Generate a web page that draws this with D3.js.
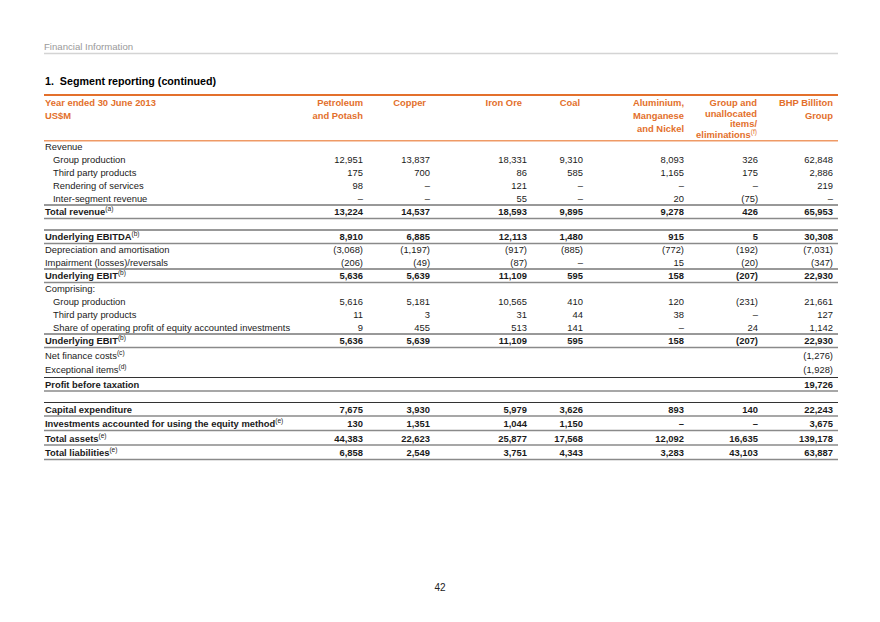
<!DOCTYPE html>
<html><head><meta charset="utf-8">
<script src="https://cdnjs.cloudflare.com/ajax/libs/d3/7.8.5/d3.min.js"></script>
<style>
html,body{margin:0;padding:0;background:#fff;}
svg{display:block;font-family:"Liberation Sans",Arial,sans-serif;}
</style></head>
<body><svg id="c" width="880" height="622"></svg>
<script>
// ---------- DATA ----------
const pageHeader = "Financial Information";
const title = "1.  Segment reporting (continued)";
const stubHeader = ["Year ended 30 June 2013", "US$M"];
const categories = ["Petroleum and Potash","Copper","Iron Ore","Coal","Aluminium, Manganese and Nickel","Group and unallocated items/ eliminations","BHP Billiton Group"];
const categoryLines = [["Petroleum","and Potash"],["Copper"],["Iron Ore"],["Coal"],["Aluminium,","Manganese","and Nickel"],["Group and","unallocated","items/","eliminations"],["BHP Billiton","Group"]];
const categoryNotes = ["","","","","","(f)",""];

const rowLabels = ["Revenue","Group production","Third party products","Rendering of services","Inter-segment revenue","Total revenue",
  "Underlying EBITDA","Depreciation and amortisation","Impairment (losses)/reversals","Underlying EBIT",
  "Comprising:","Group production","Third party products","Share of operating profit of equity accounted investments","Underlying EBIT",
  "Net finance costs","Exceptional items","Profit before taxation",
  "Capital expenditure","Investments accounted for using the equity method","Total assets","Total liabilities"];
const rowNotes = ["","","","","","(a)","(b)","","","(b)","","","","","(b)","(c)","(d)","","","(e)","(e)","(e)"];
const rowTypes = ["head","item","item","item","item","total","total","plain","plain","total","head","item","item","item","total","plain","plain","total","total","total","total","total"];

// "" = blank cell, null = dash
const petroleumPotash = ["",12951,175,98,null,13224,8910,-3068,-206,5636,"",5616,11,9,5636,"","","",7675,130,44383,6858];
const copper          = ["",13837,700,null,null,14537,6885,-1197,-49,5639,"",5181,3,455,5639,"","","",3930,1351,22623,2549];
const ironOre         = ["",18331,86,121,55,18593,12113,-917,-87,11109,"",10565,31,513,11109,"","","",5979,1044,25877,3751];
const coal            = ["",9310,585,null,null,9895,1480,-885,null,595,"",410,44,141,595,"","","",3626,1150,17568,4343];
const aluManNickel    = ["",8093,1165,null,20,9278,915,-772,15,158,"",120,38,null,158,"","","",893,null,12092,3283];
const groupUnalloc    = ["",326,175,null,-75,426,5,-192,-20,-207,"",-231,null,24,-207,"","","",140,null,16635,43103];
const bhpGroup        = ["",62848,2886,219,null,65953,30308,-7031,-347,22930,"",21661,127,1142,22930,-1276,-1928,19726,22243,3675,139178,63887];
const series = [petroleumPotash,copper,ironOre,coal,aluManNickel,groupUnalloc,bhpGroup];
const pageNumber = "42";

// ---------- LAYOUT ----------
const svg = d3.select("#c");
const orange = "#e3702c", textCol = "#1a1a1a";
const left = 44, right = 838;
const fs = 9.4;
const supFs = 6.6;

svg.append("text").attr("x", 44).attr("y", 50).attr("font-size", 9.6).attr("fill", "#9a9a9a").text(pageHeader);
svg.append("line").attr("x1", 44).attr("x2", 838).attr("y1", 53.5).attr("y2", 53.5).attr("stroke", "#d4d4d4").attr("stroke-width", 1.5);
svg.append("text").attr("x", 45).attr("y", 85).attr("font-size", 10.7).attr("font-weight", "bold").attr("fill", "#000").attr("xml:space","preserve").text(title);

// column scale (right edges)
const x = d3.scaleOrdinal().domain(categories).range([363, 430, 527, 583, 684, 758, 833]);
const xHead = d3.scaleOrdinal().domain(categories).range([363, 426, 522, 580, 684, 757, 833]);

// header
svg.append("line").attr("x1", left).attr("x2", right).attr("y1", 95).attr("y2", 95).attr("stroke", orange).attr("stroke-width", 2);
const hy = d3.scaleLinear().domain([0, 1]).range([106, 119]);
const hyTight = d3.scaleLinear().domain([0, 1]).range([106, 116.6]);
stubHeader.forEach((t, i) => svg.append("text").attr("x", left + 1).attr("y", hy(i)).attr("font-size", fs).attr("font-weight", "bold").attr("fill", orange).text(t));
categories.forEach((c, ci) => {
  const n = categoryLines[ci].length;
  const yy = n > 3 ? hyTight : hy;
  categoryLines[ci].forEach((t, li) => {
    const tx = svg.append("text").attr("x", xHead(c)).attr("y", yy(li)).attr("text-anchor", "end")
      .attr("font-size", fs).attr("font-weight", "bold").attr("fill", orange).text(t);
    if (li === n - 1 && categoryNotes[ci]) {
      tx.append("tspan").attr("font-size", supFs).attr("font-weight", "normal").attr("dy", -4).text(categoryNotes[ci]);
    }
  });
});
svg.append("line").attr("x1", left).attr("x2", right).attr("y1", 140.8).attr("y2", 140.8).attr("stroke", "#ef9a66").attr("stroke-width", 1.5);

// row y positions (baselines)
const rowGap = rowLabels.map((d, i) => {
  if (i === 0) return 0;
  if (i === 6 || i === 18) return 25;
  if (i >= 15) return 14.5;
  return 13;
});
const rowY = d3.cumsum(rowGap).map(v => v + 150);
const y = d3.scaleOrdinal().domain(d3.range(rowLabels.length)).range(rowY);

const fmt = d3.format(",");
function cell(v) {
  if (v === "") return "";
  if (v === null) return "\u2013";
  return v < 0 ? "(" + fmt(-v) + ")" : fmt(v);
}

const rows = svg.append("g").selectAll("g").data(rowLabels).join("g");
rows.each(function(lab, i) {
  const g = d3.select(this);
  const bold = rowTypes[i] === "total";
  const tx = g.append("text").attr("x", rowTypes[i] === "item" ? left + 9 : left + 1).attr("y", y(i))
    .attr("font-size", fs).attr("font-weight", bold ? "bold" : "normal").attr("fill", textCol).text(lab);
  if (rowNotes[i]) tx.append("tspan").attr("font-size", supFs).attr("font-weight", "normal").attr("dy", -4).text(rowNotes[i]);
  categories.forEach((c, ci) => {
    g.append("text").attr("x", x(c)).attr("y", y(i)).attr("text-anchor", "end")
      .attr("font-size", fs).attr("font-weight", bold ? "bold" : "normal").attr("fill", textCol)
      .text(cell(series[ci][i]));
  });
});

// rules around total rows
rowLabels.forEach((d, i) => {
  if (rowTypes[i] !== "total") return;
  const top = y(i) - 10, bot = y(i) + 3.5;
  const prevTotal = i > 0 && rowTypes[i - 1] === "total" && rowGap[i] < 20;
  if (!prevTotal) svg.append("line").attr("x1", left).attr("x2", right).attr("y1", top).attr("y2", top).attr("stroke", "#333").attr("stroke-width", 1);
  svg.append("line").attr("x1", left).attr("x2", right).attr("y1", bot).attr("y2", bot).attr("stroke", "#8a8a8a").attr("stroke-width", 1.6);
});

svg.append("text").attr("x", 440).attr("y", 591).attr("text-anchor", "middle").attr("font-size", 10).attr("fill", "#222").text(pageNumber);
</script></body></html>
